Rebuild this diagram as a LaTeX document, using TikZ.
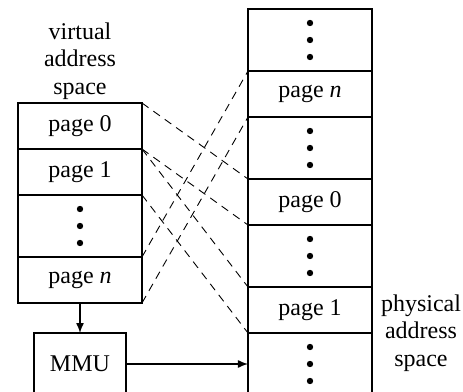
\documentclass[tikz,border=0pt]{standalone}
\usepackage{fontspec}
\setmainfont{Liberation Serif}
\usetikzlibrary{positioning,arrows.meta}

\begin{document}
\begin{tikzpicture}[x=0.5pt,y=-0.5pt,>={Latex[length=5pt,width=4pt]},
  node distance=0pt,line width=0.7pt,
  cell/.style={draw,rectangle,outer sep=0pt,minimum width=62pt,minimum height=23pt,
    font=\fontsize{12}{14}\selectfont},
  dotcell/.style={cell,minimum height=31pt,path picture={
    \foreach \d in {-1,0,1}
      \fill ([yshift=\d*8.5pt]path picture bounding box.center) circle (1.6pt);}},
  map/.style={line width=0.45pt,dash pattern=on 4pt off 3pt},
  label/.style={align=center,font=\fontsize{12}{13.75}\selectfont}]

  \useasboundingbox (0,0) rectangle (463,392);

  % virtual address space
  \node[cell,anchor=north] (v0) at (80,103) {page 0};
  \node[cell] (v1) [below=of v0] {page 1};
  \node[dotcell] (vd) [below=of v1] {};
  \node[cell] (vn) [below=of vd] {page \textit{n}};
  \node[label] (vt) at (80,61) {virtual\\address\\space};

  % MMU
  \node[cell,minimum width=46pt,minimum height=31pt] (mmu) [below=15pt of vn] {MMU};

  % physical address space
  \node[dotcell,anchor=north] (pa) at (310,9) {};
  \node[cell] (pn) [below=of pa] {page \textit{n}};
  \node[dotcell] (pb) [below=of pn] {};
  \node[cell] (p0) [below=of pb] {page 0};
  \node[dotcell] (pc) [below=of p0] {};
  \node[cell] (p1) [below=of pc] {page 1};
  \node[dotcell] (pd) [below=of p1] {};
  \node[label] (pt) at (421,333) {physical\\address\\space};

  \draw[->] (vn) -- (mmu);
  \draw[->] (mmu.east) -- (mmu.east -| pd.west);

  \path[map]
    (v0.north east) edge (p0.north west)
    (v0.south east) edge (p0.south west)
    (v1.north east) edge (p1.north west)
    (v1.south east) edge (p1.south west)
    (vn.north east) edge (pn.north west)
    (vn.south east) edge (pn.south west);
\end{tikzpicture}
\end{document}
